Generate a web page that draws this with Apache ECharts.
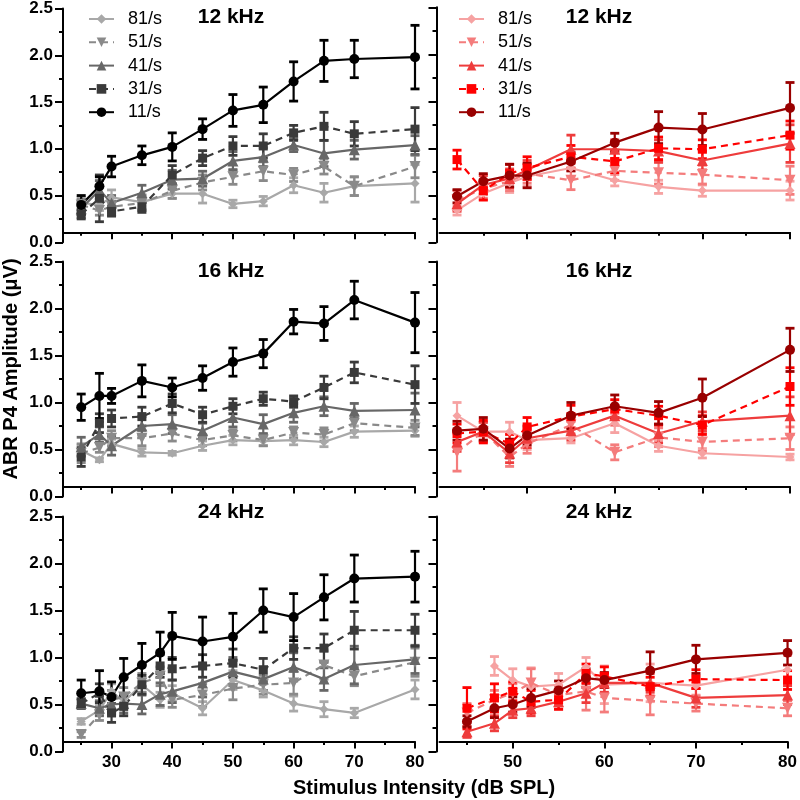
<!DOCTYPE html>
<html><head><meta charset="utf-8">
<script src="https://cdn.jsdelivr.net/npm/echarts@6/dist/echarts.min.js"></script>
<style>html,body{margin:0;padding:0;background:#fff}#c{width:800px;height:800px}</style>
</head><body><div id="c"></div><script>
// ---------- categories / x values ----------
const rateNames = ['81/s','51/s','41/s','31/s','11/s'];
const panelTitles = ['12 kHz','16 kHz','24 kHz'];
const xLeft = [25,28,30,35,40,45,50,55,60,65,70,80];
const xLeft24 = [25,28,30,32,35,38,40,45,50,55,60,65,70,80];
const xRight = [42,45,48,50,55,60,65,70,80];
const xRight24 = [45,48,50,52,55,58,60,65,70,80];
const xTicksLeft = [30,40,50,60,70,80];
const xMinorLeft = [25,35,45,55,65,75];
const xTicksRight = [50,60,70,80];
const xMinorRight = [45,55,65,75];

// ---------- 12 kHz, left (grey) ----------
const L12_81 = [0.42,0.40,0.48,0.43,0.52,0.52,0.41,0.44,0.61,0.53,0.60,0.63];
const L12_81e = [0.06,0.06,0.08,0.08,0.05,0.10,0.04,0.05,0.08,0.10,0.10,0.20];
const L12_51 = [0.40,0.34,0.38,0.42,0.55,0.64,0.70,0.76,0.72,0.81,0.60,0.81];
const L12_51e = [0.06,0.05,0.06,0.08,0.08,0.08,0.08,0.10,0.07,0.08,0.10,0.12];
const L12_41 = [0.36,0.56,0.42,0.53,0.67,0.68,0.87,0.91,1.04,0.95,0.99,1.04];
const L12_41e = [0.06,0.10,0.08,0.08,0.10,0.08,0.10,0.10,0.07,0.14,0.10,0.10];
const L12_31 = [0.30,0.47,0.33,0.38,0.72,0.90,1.03,1.03,1.17,1.24,1.16,1.21];
const L12_31e = [0.05,0.25,0.05,0.06,0.10,0.08,0.10,0.13,0.08,0.15,0.13,0.23];
const L12_11 = [0.40,0.60,0.81,0.93,1.02,1.21,1.41,1.47,1.72,1.94,1.96,1.98];
const L12_11e = [0.10,0.10,0.11,0.10,0.15,0.11,0.17,0.19,0.21,0.22,0.20,0.34];
// ---------- 12 kHz, right (red) ----------
const R12_81 = [0.34,0.52,0.63,0.70,0.79,0.66,0.59,0.55,0.55];
const R12_81e = [0.05,0.07,0.10,0.10,0.10,0.06,0.07,0.06,0.10];
const R12_51 = [0.45,0.57,0.65,0.73,0.66,0.76,0.74,0.72,0.66];
const R12_51e = [0.10,0.10,0.10,0.10,0.10,0.10,0.12,0.10,0.15];
const R12_41 = [0.41,0.61,0.68,0.77,0.99,0.99,0.97,0.87,1.05];
const R12_41e = [0.08,0.10,0.10,0.10,0.15,0.10,0.12,0.10,0.20];
const R12_31 = [0.88,0.55,0.73,0.79,0.91,0.86,1.00,0.99,1.14];
const R12_31e = [0.10,0.10,0.10,0.12,0.12,0.12,0.12,0.10,0.15];
const R12_11 = [0.49,0.65,0.71,0.71,0.86,1.06,1.22,1.20,1.43];
const R12_11e = [0.07,0.08,0.12,0.13,0.10,0.10,0.17,0.17,0.27];
// ---------- 16 kHz, left ----------
const L16_81 = [0.49,0.39,0.56,0.47,0.46,0.54,0.60,0.59,0.60,0.58,0.69,0.70];
const L16_81e = [0.06,0.02,0.05,0.04,0.02,0.05,0.05,0.05,0.05,0.05,0.06,0.06];
const L16_51 = [0.46,0.52,0.62,0.62,0.67,0.60,0.65,0.60,0.68,0.66,0.78,0.73];
const L16_51e = [0.10,0.05,0.08,0.08,0.08,0.06,0.06,0.06,0.06,0.07,0.08,0.08];
const L16_41 = [0.53,0.66,0.54,0.75,0.77,0.70,0.84,0.77,0.89,0.96,0.91,0.92];
const L16_41e = [0.10,0.08,0.10,0.10,0.10,0.08,0.10,0.10,0.10,0.10,0.08,0.18];
const L16_31 = [0.42,0.78,0.83,0.85,0.99,0.87,0.96,1.04,1.01,1.16,1.32,1.19];
const L16_31e = [0.10,0.10,0.09,0.10,0.10,0.08,0.08,0.07,0.06,0.12,0.11,0.20];
const L16_11 = [0.95,1.07,1.07,1.23,1.16,1.26,1.43,1.52,1.86,1.84,2.09,1.85];
const L16_11e = [0.14,0.24,0.08,0.17,0.10,0.13,0.15,0.15,0.13,0.18,0.20,0.32];
// ---------- 16 kHz, right ----------
const R16_81 = [0.86,0.69,0.69,0.60,0.62,0.78,0.54,0.46,0.42];
const R16_81e = [0.14,0.10,0.10,0.10,0.05,0.10,0.06,0.05,0.03];
const R16_51 = [0.47,0.69,0.42,0.56,0.76,0.47,0.63,0.58,0.62];
const R16_51e = [0.20,0.10,0.10,0.10,0.10,0.08,0.10,0.10,0.12];
const R16_41 = [0.58,0.69,0.46,0.62,0.70,0.86,0.67,0.80,0.86];
const R16_41e = [0.10,0.10,0.10,0.10,0.10,0.10,0.10,0.10,0.20];
const R16_31 = [0.67,0.69,0.56,0.74,0.85,0.93,0.86,0.76,1.17];
const R16_31e = [0.10,0.12,0.10,0.10,0.12,0.10,0.10,0.10,0.20];
const R16_11 = [0.70,0.72,0.51,0.65,0.86,0.96,0.89,1.05,1.56];
const R16_11e = [0.10,0.12,0.10,0.10,0.14,0.12,0.12,0.20,0.23];
// ---------- 24 kHz, left ----------
const L24_81 = [0.32,0.44,0.64,0.53,0.71,0.55,0.62,0.46,0.76,0.65,0.51,0.45,0.41,0.66];
const L24_81e = [0.03,0.05,0.08,0.07,0.08,0.08,0.08,0.07,0.10,0.07,0.08,0.08,0.05,0.10];
const L24_51 = [0.18,0.39,0.55,0.58,0.73,0.80,0.55,0.60,0.67,0.71,0.73,0.92,0.80,0.95];
const L24_51e = [0.03,0.06,0.10,0.10,0.10,0.10,0.08,0.12,0.12,0.10,0.12,0.15,0.10,0.15];
const L24_41 = [0.51,0.46,0.50,0.51,0.50,0.61,0.64,0.73,0.85,0.77,0.90,0.77,0.92,0.98];
const L24_41e = [0.05,0.08,0.10,0.10,0.10,0.12,0.12,0.15,0.15,0.12,0.15,0.12,0.20,0.15];
const L24_31 = [0.51,0.62,0.41,0.48,0.71,0.91,0.88,0.91,0.94,0.87,1.10,1.10,1.29,1.29];
const L24_31e = [0.05,0.10,0.10,0.10,0.10,0.12,0.12,0.12,0.15,0.12,0.12,0.15,0.20,0.17];
const L24_11 = [0.62,0.64,0.58,0.79,0.92,1.05,1.23,1.17,1.22,1.50,1.43,1.64,1.84,1.86];
const L24_11e = [0.14,0.22,0.16,0.20,0.23,0.22,0.25,0.26,0.25,0.23,0.25,0.24,0.25,0.27];
// ---------- 24 kHz, right ----------
const R24_81 = [null,0.91,0.76,0.69,0.71,0.90,0.71,0.73,0.70,0.87];
const R24_81e = [null,0.10,0.12,0.20,0.12,0.10,0.20,0.20,0.10,0.15];
const R24_51 = [0.41,0.55,0.62,0.73,0.60,0.64,0.57,0.54,0.51,0.46];
const R24_51e = [0.10,0.10,0.10,0.15,0.10,0.20,0.15,0.15,0.08,0.08];
const R24_41 = [0.21,0.30,0.44,0.46,0.53,0.62,0.73,0.73,0.57,0.60];
const R24_41e = [0.06,0.08,0.08,0.08,0.08,0.10,0.10,0.10,0.10,0.10];
const R24_31 = [0.46,0.57,0.64,0.53,0.55,0.83,0.80,0.69,0.77,0.76];
const R24_31e = [0.22,0.15,0.10,0.12,0.10,0.10,0.10,0.10,0.10,0.10];
const R24_11 = [0.32,0.46,0.50,0.57,0.65,0.78,0.76,0.86,0.98,1.05];
const R24_11e = [0.06,0.10,0.08,0.10,0.10,0.10,0.08,0.20,0.15,0.13];

// ---------- panel assembly ----------
const panels = [
  {row:0,col:0,x:xLeft,   v:[L12_81,L12_51,L12_41,L12_31,L12_11], e:[L12_81e,L12_51e,L12_41e,L12_31e,L12_11e]},
  {row:0,col:1,x:xRight,  v:[R12_81,R12_51,R12_41,R12_31,R12_11], e:[R12_81e,R12_51e,R12_41e,R12_31e,R12_11e]},
  {row:1,col:0,x:xLeft,   v:[L16_81,L16_51,L16_41,L16_31,L16_11], e:[L16_81e,L16_51e,L16_41e,L16_31e,L16_11e]},
  {row:1,col:1,x:xRight,  v:[R16_81,R16_51,R16_41,R16_31,R16_11], e:[R16_81e,R16_51e,R16_41e,R16_31e,R16_11e]},
  {row:2,col:0,x:xLeft24, v:[L24_81,L24_51,L24_41,L24_31,L24_11], e:[L24_81e,L24_51e,L24_41e,L24_31e,L24_11e]},
  {row:2,col:1,x:xRight24,v:[R24_81,R24_51,R24_41,R24_31,R24_11], e:[R24_81e,R24_51e,R24_41e,R24_31e,R24_11e]}
];

const FONT = '"Liberation Sans", Arial, Helvetica, sans-serif';
const greyColors = ['#a8a8a8','#8a8a8a','#676767','#3a3a3a','#000000'];
const redColors  = ['#f6a2a2','#f47c7c','#ee3c3c','#ff0000','#990000'];
const symbols = ['diamond','triangle','triangle','rect','circle'];
const symRot = [0,180,0,0,0];
const symSize = [9,11,11,9,10];
const dashed = [false,true,false,true,false];
const rowTops = [7.3, 261.5, 516.5];
const rowH = 235;
const colLeft = [63, 439.5];
const colW = [352, 350.5];

function errRenderer(color){
  return function(params, api){
    const xv = api.value(0);
    const lo = api.coord([xv, api.value(1)]);
    const hi = api.coord([xv, api.value(2)]);
    const hw = 4.5;
    const st = {stroke: color, lineWidth: 2.2, fill: null};
    const cap = {stroke: color, lineWidth: 2.8, fill: null};
    return {type:'group', children:[
      {type:'line', shape:{x1:lo[0],y1:lo[1],x2:hi[0],y2:hi[1]}, style:st},
      {type:'line', shape:{x1:hi[0]-hw,y1:hi[1],x2:hi[0]+hw,y2:hi[1]}, style:cap},
      {type:'line', shape:{x1:lo[0]-hw,y1:lo[1],x2:lo[0]+hw,y2:lo[1]}, style:cap}
    ]};
  };
}

const grids = [], xAxes = [], yAxes = [], series = [];
const axisLineStyle = {color:'#000', width:2};
panels.forEach((p, gi) => {
  grids.push({left: colLeft[p.col], top: rowTops[p.row], width: colW[p.col], height: rowH});
  const xmin = p.col === 0 ? 22 : (p.row === 2 ? 42 : 40);
  const major = p.col === 0 ? xTicksLeft : xTicksRight;
  const minor = p.col === 0 ? xMinorLeft : xMinorRight;
  const mainX = xAxes.length;
  xAxes.push({
    type:'value', gridIndex: gi, min: xmin, max: 80, position:'bottom', offset: -10,
    axisLine:{show:true, onZero:false, lineStyle: axisLineStyle},
    axisTick:{show:true, customValues: major, length: 7, lineStyle: axisLineStyle},
    axisLabel:{show: p.row === 2, customValues: major, fontFamily: FONT, fontWeight:'bold', fontSize:17, color:'#000', margin: 12},
    splitLine:{show:false}
  });
  xAxes.push({
    type:'value', gridIndex: gi, min: xmin, max: 80, position:'bottom', offset: -10,
    axisLine:{show:false, onZero:false},
    axisTick:{show:true, customValues: minor, length: 3.5, lineStyle: axisLineStyle},
    axisLabel:{show:false},
    splitLine:{show:false}
  });
  yAxes.push({
    type:'value', gridIndex: gi, min: 0, max: 2.5, interval: 0.5, offset: p.col === 1 ? 3 : 0,
    axisLine:{show:true, lineStyle: axisLineStyle},
    axisTick:{show:true, length: 8, lineStyle: axisLineStyle},
    minorTick:{show:true, splitNumber: 2, length: 4, lineStyle: axisLineStyle},
    axisLabel:{show: p.col === 0, formatter: v => v.toFixed(1), fontFamily: FONT, fontWeight:'bold', fontSize:17, color:'#000', margin: 10},
    splitLine:{show:false}, minorSplitLine:{show:false}
  });
  const colors = p.col === 0 ? greyColors : redColors;
  for (let k = 0; k < 5; k++) {
    const vals = p.v[k], errs = p.e[k];
    const pts = [], bars = [];
    p.x.forEach((xv, i) => {
      if (vals[i] == null) return;
      pts.push([xv, vals[i]]);
      bars.push([xv, vals[i] - errs[i], vals[i] + errs[i]]);
    });
    series.push({
      type:'custom', name:'SEM', xAxisIndex: mainX, yAxisIndex: gi, data: bars,
      encode:{x:0, y:[1,2]}, renderItem: errRenderer(colors[k]), clip:false, silent:true
    });
    series.push({
      type:'line', name: (p.col === 0 ? '' : 'R') + rateNames[k], xAxisIndex: mainX, yAxisIndex: gi,
      data: pts, symbol: symbols[k], symbolRotate: symRot[k], symbolSize: symSize[k], showSymbol: true,
      itemStyle:{color: colors[k]},
      lineStyle:{color: colors[k], width: 2.2, type: dashed[k] ? [7,5] : 'solid'},
      silent:true, animation:false
    });
  }
});

const titleFont = 'bold 21px ' + FONT;
const graphic = [];
const titleY = [17.5, 271.5, 512.5];
const titleX = [231, 599];
for (let r = 0; r < 3; r++) for (let c = 0; c < 2; c++) {
  graphic.push({type:'text', x: titleX[c], y: titleY[r], silent:true,
    style:{text: panelTitles[r], font: titleFont, fill:'#000', align:'center', verticalAlign:'middle'}});
}
graphic.push({type:'text', x: 424, y: 788, silent:true,
  style:{text:'Stimulus Intensity (dB SPL)', font:'bold 20px ' + FONT, fill:'#000', align:'center', verticalAlign:'middle'}});
graphic.push({type:'text', x: 11, y: 369, rotation: Math.PI/2, silent:true,
  style:{text:'ABR P4 Amplitude (\u03BCV)', font:'bold 20px ' + FONT, fill:'#000', align:'center', verticalAlign:'middle'}});

const legendBase = {orient:'vertical', top: 4, itemWidth: 25, itemHeight: 12, itemGap: 3.3, selectedMode:false,
  textStyle:{fontFamily: FONT, fontSize: 18, color:'#000', lineHeight: 20, padding:[0,0,0,9]}};

const option = {
  animation:false,
  backgroundColor:'#fff',
  grid: grids, xAxis: xAxes, yAxis: yAxes, series: series,
  legend: [
    Object.assign({}, legendBase, {left: 83, data: rateNames}),
    Object.assign({}, legendBase, {left: 453, data: rateNames.map(n => 'R' + n), formatter: n => n.slice(1)})
  ],
  graphic: graphic
};
const chart = echarts.init(document.getElementById('c'), null, {renderer:'canvas'});
chart.setOption(option);
</script></body></html>
